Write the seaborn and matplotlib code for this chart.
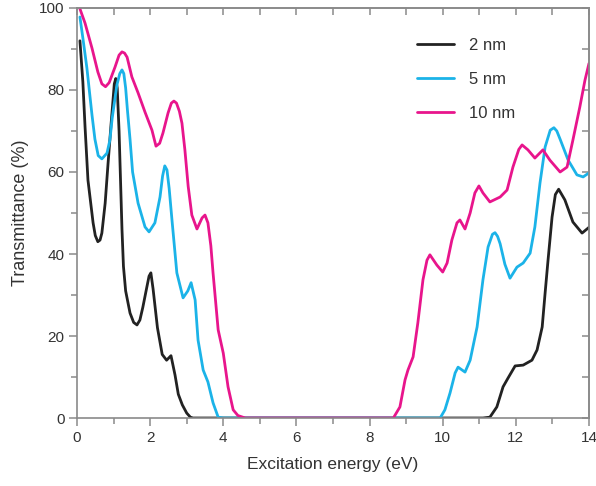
import matplotlib
matplotlib.use("Agg")
import matplotlib.pyplot as plt
from matplotlib.ticker import MultipleLocator
import seaborn as sns
import pandas as pd

# ---- data ----
e_2nm = [0.08, 0.16, 0.22, 0.30, 0.44, 0.50, 0.57, 0.63, 0.68, 0.77, 0.85, 0.93, 0.98, 1.02, 1.06,
         1.10, 1.15, 1.19, 1.23, 1.27, 1.33, 1.45, 1.55, 1.64, 1.72, 1.80, 1.90, 1.97, 2.02, 2.08,
         2.20, 2.33, 2.45, 2.57, 2.68, 2.77, 2.88, 3.00, 3.10, 3.17, 11.10, 11.29, 11.48, 11.65,
         11.79, 11.98, 12.20, 12.44, 12.58, 12.72, 12.80, 12.88, 12.99, 13.08, 13.17, 13.34, 13.56,
         13.81, 14.00]
t_2nm = [92.0, 82.0, 71.0, 58.0, 47.6, 44.5, 43.0, 43.4, 45.1, 52.4, 62.2, 71.5, 77.0, 81.5, 82.8,
         80.5, 70.0, 58.0, 46.0, 37.0, 31.0, 25.6, 23.3, 22.7, 23.9, 27.0, 31.5, 34.6, 35.4, 31.5,
         22.0, 15.5, 14.1, 15.2, 10.5, 5.8, 3.2, 1.2, 0.2, 0.0, 0.0, 0.2, 2.7, 7.6,
         9.8, 12.7, 12.9, 14.1, 16.6, 22.2, 30.5, 38.5, 49.0, 54.5, 55.8, 53.2, 47.8,
         45.1, 46.5]

e_5nm = [0.08, 0.16, 0.27, 0.41, 0.49, 0.58, 0.68, 0.82, 0.90, 0.96, 1.09, 1.17, 1.23, 1.28, 1.33,
         1.38, 1.45, 1.52, 1.67, 1.86, 1.97, 2.13, 2.27, 2.34, 2.40, 2.46, 2.52, 2.60, 2.73, 2.90,
         3.03, 3.12, 3.23, 3.31, 3.45, 3.58, 3.72, 3.86, 4.00, 9.93, 10.06, 10.20, 10.34, 10.42,
         10.61, 10.75, 10.94, 11.10, 11.24, 11.36, 11.43, 11.50, 11.57, 11.70, 11.84, 12.03, 12.20,
         12.39, 12.52, 12.66, 12.80, 12.94, 13.04, 13.12, 13.21, 13.43, 13.67, 13.84, 14.00]
t_5nm = [97.8, 92.7, 85.4, 73.9, 68.0, 64.0, 63.2, 64.6, 67.8, 73.0, 81.2, 84.0, 84.9, 84.0, 80.5,
         75.0, 68.0, 60.0, 52.4, 46.6, 45.4, 47.6, 53.9, 59.0, 61.5, 60.5, 56.0, 48.0, 35.4, 29.3,
         31.0, 33.0, 28.8, 19.0, 11.7, 8.8, 3.7, 0.2, 0.0, 0.0, 2.0, 6.1, 11.0, 12.4,
         11.2, 14.1, 22.2, 33.7, 41.7, 44.8, 45.2, 44.3, 42.5, 37.5, 34.1, 36.8, 37.8,
         40.2, 46.6, 57.3, 66.1, 70.2, 70.8, 70.0, 68.0, 62.9, 59.3, 58.8, 59.8]

e_10nm = [0.08, 0.22, 0.41, 0.57, 0.68, 0.78, 0.88, 1.04, 1.15, 1.23, 1.30, 1.37, 1.50, 1.67, 1.86,
          2.05, 2.16, 2.26, 2.35, 2.49, 2.58, 2.65, 2.72, 2.80, 2.87, 2.95, 3.04, 3.14, 3.28, 3.42,
          3.50, 3.58, 3.66, 3.72, 3.86, 4.00, 4.13, 4.27, 4.40, 4.60, 8.65, 8.83, 8.97, 9.05, 9.19,
          9.32, 9.46, 9.57, 9.65, 9.84, 10.00, 10.12, 10.25, 10.39, 10.47, 10.61, 10.75, 10.88, 10.99,
          11.10, 11.29, 11.57, 11.76, 11.92, 12.08, 12.17, 12.33, 12.52, 12.74, 12.93, 13.21, 13.40,
          13.56, 13.75, 13.89, 14.00]
t_10nm = [99.8, 96.3, 90.2, 84.4, 81.5, 80.8, 81.8, 85.6, 88.5, 89.3, 89.0, 88.0, 83.2, 79.3, 74.6,
          70.2, 66.3, 67.0, 69.5, 74.4, 76.8, 77.3, 76.8, 74.8, 71.9, 65.4, 56.5, 49.5, 46.1, 48.8,
          49.5, 47.6, 42.0, 35.4, 21.5, 15.8, 7.6, 2.0, 0.6, 0.0, 0.0, 2.7, 9.3, 11.7, 14.9,
          23.2, 33.7, 38.5, 39.8, 37.3, 35.6, 37.8, 43.4, 47.6, 48.3, 46.1, 50.0, 54.9, 56.6,
          54.9, 52.7, 53.9, 55.6, 61.2, 65.5, 66.6, 65.4, 63.4, 65.4, 62.9, 60.0, 61.2,
          67.8, 75.9, 82.4, 86.5]

labels = ["2 nm", "5 nm", "10 nm"]
colors = ["#222222", "#1bb3e8", "#e8158c"]

df = pd.concat([
    pd.DataFrame({"E": e_2nm, "T": t_2nm, "size": labels[0]}),
    pd.DataFrame({"E": e_5nm, "T": t_5nm, "size": labels[1]}),
    pd.DataFrame({"E": e_10nm, "T": t_10nm, "size": labels[2]}),
])

sns.set_style("ticks")
plt.rcParams["font.family"] = ["Liberation Sans", "DejaVu Sans"]

fig = plt.figure(figsize=(5.96, 4.86), dpi=100)
ax = fig.add_axes([77/596, 1-418/486, (589-77)/596, (418-8)/486])

sns.lineplot(data=df, x="E", y="T", hue="size", palette=dict(zip(labels, colors)),
             hue_order=labels, estimator=None, sort=True, linewidth=2.0, ax=ax)
for ln in ax.lines:
    ln.set_solid_joinstyle("round")
    ln.set_solid_capstyle("round")

ax.set_xlim(0, 14)
ax.set_ylim(0, 100)
ax.xaxis.set_major_locator(MultipleLocator(2))
ax.xaxis.set_minor_locator(MultipleLocator(1))
ax.yaxis.set_major_locator(MultipleLocator(20))
ax.yaxis.set_minor_locator(MultipleLocator(10))

gray = "#8a8a8a"
txt = "#333333"
for s in ax.spines.values():
    s.set_color(gray)
    s.set_linewidth(1.2)
    s.set_visible(True)
ax.tick_params(which="both", direction="out", color=gray, width=1.1, labelcolor=txt, labelsize=11)
ax.tick_params(which="major", length=6, pad=3)
ax.tick_params(which="minor", length=4)

top = ax.secondary_xaxis("top")
top.xaxis.set_major_locator(MultipleLocator(1))
top.tick_params(direction="in", length=5, color=gray, width=1.1, labeltop=False)
top.spines["top"].set_color(gray)
top.spines["top"].set_linewidth(1.2)
right = ax.secondary_yaxis("right")
right.yaxis.set_major_locator(MultipleLocator(10))
right.tick_params(direction="in", length=5, color=gray, width=1.1, labelright=False)
right.spines["right"].set_color(gray)
right.spines["right"].set_linewidth(1.2)

ax.set_xlabel("Excitation energy (eV)", fontsize=12.5, color=txt, labelpad=9)
ax.set_ylabel("Transmittance (%)", fontsize=13, color=txt, labelpad=7)

handles, lbls = ax.get_legend_handles_labels()
ax.legend(handles, lbls, loc="upper left", bbox_to_anchor=(417/596, 1-38/486),
          bbox_transform=fig.transFigure, frameon=False, fontsize=12,
          handlelength=2.2, handletextpad=0.9, labelspacing=1.15, borderpad=0, borderaxespad=0,
          labelcolor=txt)

fig.savefig("out.png", dpi=100)
